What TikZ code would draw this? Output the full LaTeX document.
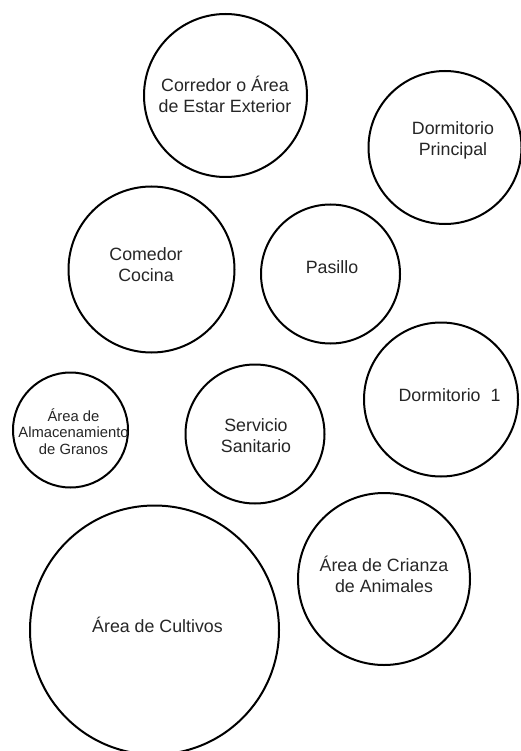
\documentclass[tikz,border=0pt]{standalone}
\usepackage{fontspec}
\setmainfont{Liberation Sans}
\definecolor{ink}{HTML}{262626}
\tikzset{
  room/.style ={draw=black, line width=2pt, circle, inner sep=0pt, fill=white},
  lbl/.style  ={font=\fontsize{17.8}{21}\selectfont, text=ink, align=center, inner sep=0pt},
  lbls/.style ={font=\fontsize{14.8}{16.7}\selectfont, text=ink, align=center, inner sep=0pt},
}
\begin{document}
\begin{tikzpicture}[x=1pt,y=-1pt]
    \useasboundingbox (0,0) rectangle (521,751);
    \node[room,minimum size=163pt] (corr) at (225.5,95.5) {};
    \node[room,minimum size=153pt] (dormp) at (445,147.5) {};
    \node[room,minimum size=166pt] (come) at (151.5,269.5) {};
    \node[room,minimum size=139pt] (pas) at (330.5,274) {};
    \node[room,minimum size=154pt] (dorm) at (441,399.5) {};
    \node[room,minimum size=115pt] (alm) at (70.5,430) {};
    \node[room,minimum size=139pt] (serv) at (255,434) {};
    \node[room,minimum size=172pt] (cria) at (384,579) {};
    \node[room,minimum size=249pt] (cult) at (154.5,630) {};

    \node[lbl] (corrt) at (225,94) {Corredor o Área\\de Estar Exterior};
    \node[lbl] (dormpt) at (453,140) {Dormitorio\\Principal};
    \node[lbl] (comet) at (146,265) {Comedor\\Cocina};
    \node[lbl] (past) at (332,267) {Pasillo};
    \node[lbl] (dormt) at (449.5,395.5) {Dormitorio\ \ 1};
    \node[lbls] (almt) at (73.5,431.5) {Área de\\Almacenamiento\\de Granos};
    \node[lbl] (servt) at (256,436) {Servicio\\Sanitario};
    \node[lbl] (criat) at (384,574) {Área de Crianza\\de Animales};
    \node[lbl] (cultt) at (157.5,625) {Área de Cultivos};
\end{tikzpicture}
\end{document}
